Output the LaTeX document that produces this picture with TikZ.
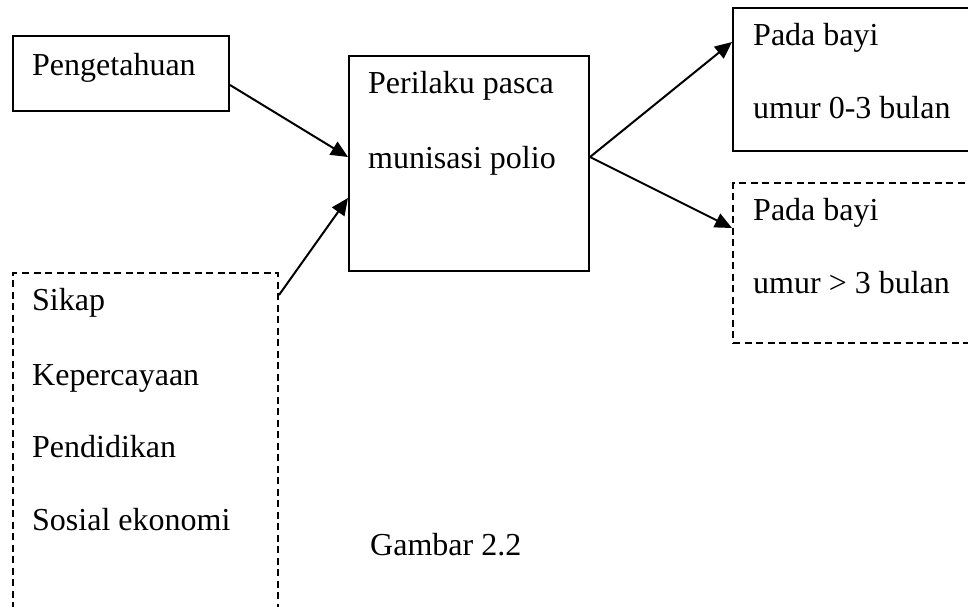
\documentclass[tikz,border=0pt]{standalone}
\usepackage{fontspec}
\setmainfont{Liberation Serif}
\usetikzlibrary{arrows.meta}
\begin{document}
\begin{tikzpicture}[x=1pt,y=-1pt,
  every node/.style={font=\fontsize{32}{38}\selectfont},
  box/.style={draw, line width=2pt, rectangle, anchor=north west, inner sep=0pt},
  dbox/.style={box, dash pattern=on 7pt off 4.5pt},
  lbl/.style={anchor=base west, inner sep=0pt},
  arr/.style={line width=2pt, -{Triangle[length=17pt,width=15pt]}}]
\useasboundingbox (0,0) rectangle (968,606);
% boxes
\node[box, minimum width=216pt, minimum height=75pt] (peng) at (12,35) {};
\node[box, minimum width=240pt, minimum height=215pt] (peri) at (348,55) {};
\node[dbox, minimum width=265pt, minimum height=360pt] (sikap) at (12,272) {};
\node[box, minimum width=260pt, minimum height=143pt] (bayi1) at (732,7) {};
\node[dbox, minimum width=260pt, minimum height=160pt] (bayi2) at (732,182) {};
% texts
\node[lbl] (t1) at (32,75) {Pengetahuan};
\node[lbl] (t2) at (368,93) {Perilaku pasca};
\node[lbl] (t3) at (368,168) {munisasi polio};
\node[lbl] (t4) at (753,45) {Pada bayi};
\node[lbl] (t5) at (753,118) {umur 0-3 bulan};
\node[lbl] (t6) at (753,220) {Pada bayi};
\node[lbl] (t7) at (753,293) {umur > 3 bulan};
\node[lbl] (t8) at (32,310) {Sikap};
\node[lbl] (t9) at (32,385) {Kepercayaan};
\node[lbl] (t10) at (32,457) {Pendidikan};
\node[lbl] (t11) at (32,530) {Sosial ekonomi};
\node[lbl] (cap) at (370,555) {Gambar 2.2};
% connector end points
\coordinate (a1s) at (peng.east |- 0,85);
\coordinate (a1e) at (peri.west |- 0,157);
\coordinate (a2s) at (sikap.east |- 0,295);
\coordinate (a2e) at (peri.west |- 0,198);
\coordinate (a3s) at (peri.east |- 0,157);
\coordinate (a3e) at (bayi1.west |- 0,42);
\coordinate (a4e) at (bayi2.west |- 0,228);
\draw[arr] (a1s) -- (a1e);
\draw[arr] (a2s) -- (a2e);
\draw[arr] (a3s) -- (a3e);
\draw[arr] (a3s) -- (a4e);
\end{tikzpicture}
\end{document}
